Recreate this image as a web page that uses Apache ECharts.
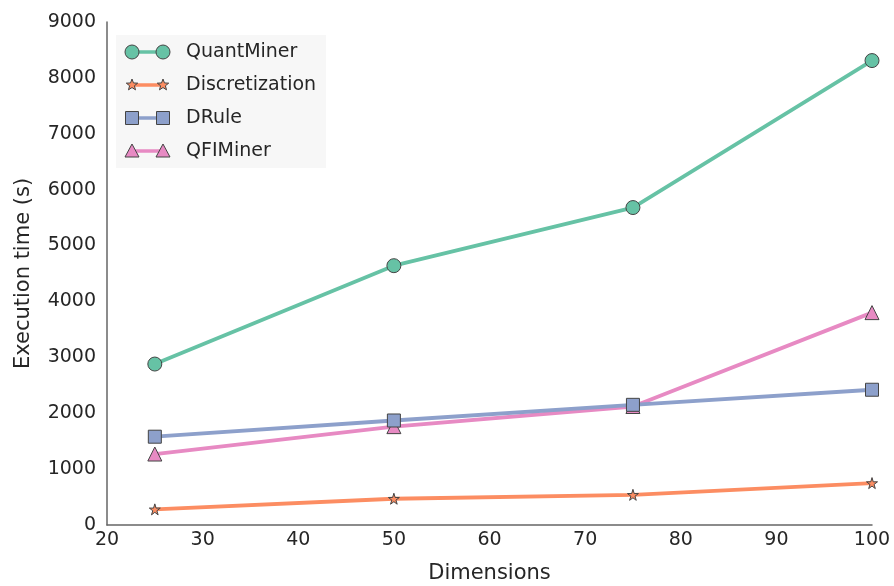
<!DOCTYPE html>
<html><head><meta charset="utf-8">
<script src="https://cdn.jsdelivr.net/npm/echarts@6/dist/echarts.min.js"></script>
<style>html,body{margin:0;padding:0;background:#fff}#c{width:894px;height:586px}</style>
</head><body><div id="c"></div>
<script>
const dims = [25, 50, 75, 100];
const quantMiner = [2880, 4640, 5680, 8310];
const discretization = [280, 470, 540, 750];
const dRule = [1580, 1870, 2150, 2420];
const qfiMiner = [1270, 1760, 2120, 3800];
const names = ['QuantMiner', 'Discretization', 'DRule', 'QFIMiner'];
const colors = ['#66c2a5', '#fc8d62', '#8da0cb', '#e78ac3'];
const starPath = 'path://M50,0 L61,35 L98,35 L68,57 L79,91 L50,70 L21,91 L32,57 L2,35 L39,35 Z';
const symbols = ['circle', starPath, 'rect', 'triangle'];
const sizes = [14, 11, 13, 14];
const values = [quantMiner, discretization, dRule, qfiMiner];

const font = 'DejaVu Sans';
const txt = '#262626';

// legend geometry (rendered item height is itemHeight + 2)
const legLeft = 116, legTop = 35, padT = 5, rowH = 22, gap = 9;
const itemH = rowH + 2;
function starPoints(cx, cy, R) {
  const pts = [];
  for (let k = 0; k < 10; k++) {
    const r = k % 2 === 0 ? R : R * 0.42;
    const a = -Math.PI / 2 + k * Math.PI / 5;
    pts.push([cx + r * Math.cos(a), cy + r * Math.sin(a)]);
  }
  return pts;
}
function marker(i, cx, cy) {
  const st = {fill: colors[i], stroke: '#444', lineWidth: 1};
  if (i === 0) return {type: 'circle', shape: {cx, cy, r: 7}, style: st, z: 101};
  if (i === 1) return {type: 'polygon', shape: {points: starPoints(cx, cy, 6)}, style: st, z: 101};
  if (i === 2) return {type: 'rect', shape: {x: cx - 6.5, y: cy - 6.5, width: 13, height: 13}, style: st, z: 101};
  return {type: 'polygon', shape: {points: [[cx, cy - 7], [cx + 7, cy + 6], [cx - 7, cy + 6]]}, style: st, z: 101};
}
const legendGraphics = [];
names.forEach((n, i) => {
  const cy = legTop + padT + itemH / 2 + i * (itemH + gap);
  legendGraphics.push({type: 'line', shape: {x1: 132, y1: cy, x2: 163, y2: cy}, style: {stroke: colors[i], lineWidth: 3.5}, z: 100});
  legendGraphics.push(marker(i, 132, cy));
  legendGraphics.push(marker(i, 163, cy));
});

const chart = echarts.init(document.getElementById('c'));
chart.setOption({
  animation: false,
  textStyle: {fontFamily: font},
  grid: {left: 107, right: 22, top: 22, bottom: 61, containLabel: false, outerBoundsMode: 'none'},
  legend: {
    left: legLeft, top: legTop, orient: 'vertical',
    backgroundColor: '#f7f7f7', padding: [padT, 10, padT, 6],
    itemWidth: 58, itemHeight: rowH, itemGap: gap, icon: 'rect',
    itemStyle: {opacity: 0}, lineStyle: {opacity: 0},
    textStyle: {fontSize: 19, color: txt, fontFamily: font},
    data: names
  },
  graphic: legendGraphics,
  xAxis: {
    type: 'value', min: 20, max: 100, interval: 10,
    name: 'Dimensions', nameLocation: 'middle', nameGap: 38,
    nameTextStyle: {fontSize: 21, color: txt, fontFamily: font},
    axisLine: {lineStyle: {color: '#666', width: 1.5}},
    axisTick: {show: false}, splitLine: {show: false},
    axisLabel: {fontSize: 19, color: txt, margin: 6}
  },
  yAxis: {
    type: 'value', min: 0, max: 9000, interval: 1000,
    name: 'Execution time (s)', nameLocation: 'middle', nameGap: 73,
    nameTextStyle: {fontSize: 21, color: txt, fontFamily: font},
    axisLine: {show: true, lineStyle: {color: '#666', width: 1.5}},
    axisTick: {show: false}, splitLine: {show: false},
    axisLabel: {fontSize: 19, color: txt, margin: 11, formatter: v => String(v)}
  },
  series: names.map((n, i) => ({
    name: n, type: 'line', clip: true,
    data: dims.map((d, j) => [d, values[i][j]]),
    symbol: symbols[i], symbolSize: sizes[i], showAllSymbol: true,
    lineStyle: {color: colors[i], width: 3.8},
    itemStyle: {color: colors[i], borderColor: '#444', borderWidth: 1},
    z: 10 - i
  }))
});
</script></body></html>
